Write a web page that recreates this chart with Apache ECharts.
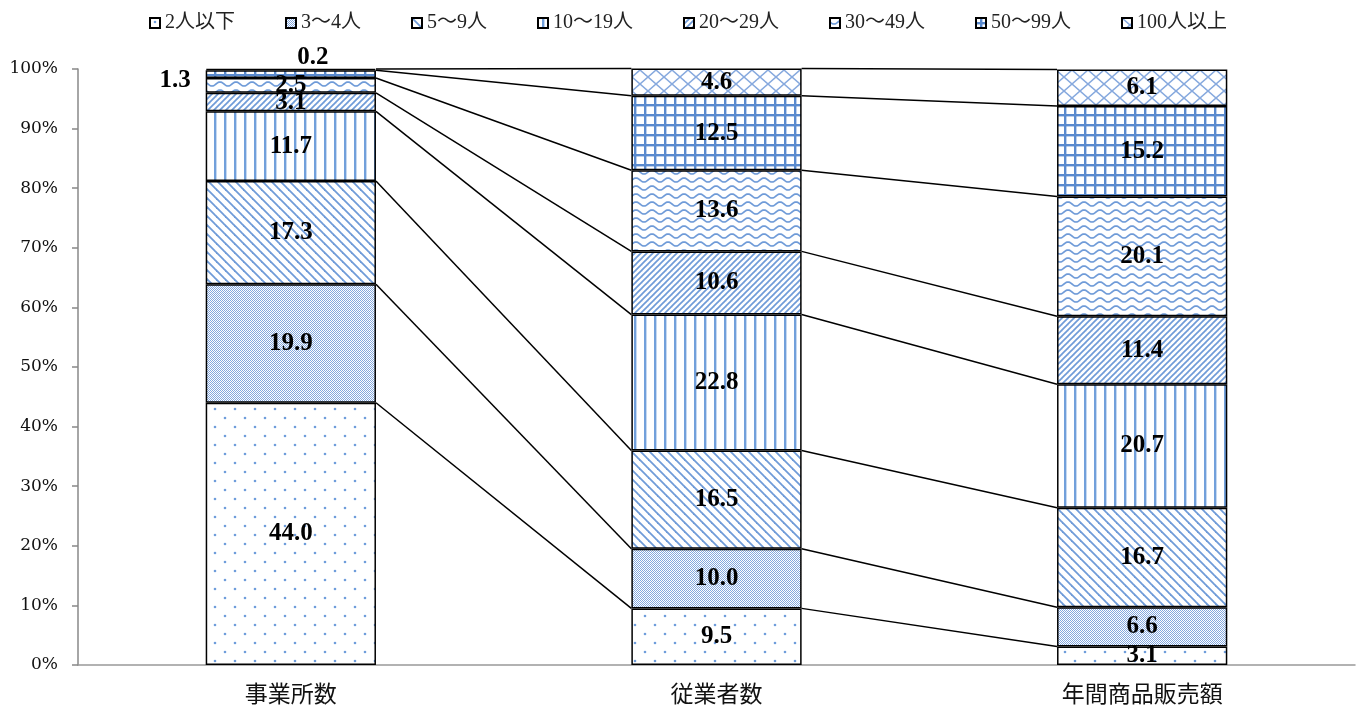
<!DOCTYPE html>
<html>
<head>
<meta charset="utf-8">
<script src="https://cdn.jsdelivr.net/npm/echarts@6/dist/echarts.min.js"></script>
<style>
  html, body { margin: 0; padding: 0; background: #fff; }
  #chart { width: 1362px; height: 706px; }
</style>
</head>
<body>
<div id="chart"></div>
<script>
// 規模別構成比（%）
const categories = ['事業所数', '従業者数', '年間商品販売額'];
const sizeClasses = ['2人以下', '3～4人', '5～9人', '10～19人', '20～29人', '30～49人', '50～99人', '100人以上'];

const upTo2      = [44.0,  9.5,  3.1];
const from3to4   = [19.9, 10.0,  6.6];
const from5to9   = [17.3, 16.5, 16.7];
const from10to19 = [11.7, 22.8, 20.7];
const from20to29 = [ 3.1, 10.6, 11.4];
const from30to49 = [ 2.5, 13.6, 20.1];
const from50to99 = [ 1.3, 12.5, 15.2];
const over100    = [ 0.2,  4.6,  6.1];

const yMin = 0, yMax = 100, yStep = 10;

const seriesValues = [upTo2, from3to4, from5to9, from10to19, from20to29, from30to49, from50to99, over100];

// ---- hatch fills drawn on small tiles ----
function tile(w, h, draw) {
  const c = document.createElement('canvas');
  c.width = w; c.height = h;
  const g = c.getContext('2d');
  g.fillStyle = '#fff';
  g.fillRect(0, 0, w, h);
  draw(g, w, h);
  return { image: c, repeat: 'repeat' };
}
const BLUE = '#6f9bd8';

const patterns = [
  // dots
  tile(20, 18, g => {
    g.fillStyle = '#6f9ddb';
    g.beginPath(); g.arc(5, 4, 1.3, 0, Math.PI * 2); g.fill();
    g.beginPath(); g.arc(15, 13, 1.3, 0, Math.PI * 2); g.fill();
  }),
  // fine checker
  tile(2, 2, g => {
    g.fillStyle = '#84a8de';
    g.fillRect(0, 0, 1, 1);
    g.fillRect(1, 1, 1, 1);
  }),
  // wide downward diagonal
  tile(9, 9, g => {
    g.strokeStyle = BLUE; g.lineWidth = 1.8;
    for (const k of [-9, 0, 9]) {
      g.beginPath(); g.moveTo(k - 1, -1); g.lineTo(k + 10, 10); g.stroke();
    }
  }),
  // vertical lines
  tile(10, 10, g => {
    g.fillStyle = '#72a0db';
    g.fillRect(4, 0, 2.4, 10);
  }),
  // dense upward diagonal
  tile(6, 6, g => {
    g.strokeStyle = BLUE; g.lineWidth = 1.7;
    for (const k of [-6, 0, 6]) {
      g.beginPath(); g.moveTo(k - 1, 7); g.lineTo(k + 7, -1); g.stroke();
    }
  }),
  // waves
  tile(16, 8, g => {
    g.strokeStyle = BLUE; g.lineWidth = 1.7;
    g.beginPath();
    for (let x = -1; x <= 17; x += 0.5) {
      const y = 4 + 2 * Math.sin(2 * Math.PI * x / 16);
      if (x === -1) g.moveTo(x, y); else g.lineTo(x, y);
    }
    g.stroke();
  }),
  // grid
  tile(10, 10, g => {
    g.fillStyle = '#5a8ace';
    g.fillRect(0, 4, 10, 2.4);
    g.fillRect(4, 0, 2.4, 10);
  }),
  // diamond lattice
  tile(16, 14, g => {
    g.strokeStyle = '#86a9de'; g.lineWidth = 1.5;
    g.beginPath(); g.moveTo(-1, -0.875); g.lineTo(17, 14.875); g.stroke();
    g.beginPath(); g.moveTo(-1, 14.875); g.lineTo(17, -0.875); g.stroke();
  })
];

const serifLatin = "'Liberation Serif', 'Noto Sans CJK JP', serif";

// per-item label tweaks for the thin top segments of the first bar
function dataFor(idx) {
  return seriesValues[idx].map((v, ci) => {
    const item = { value: v };
    if (ci === 0 && idx === 6) {
      item.label = { position: 'left', distance: 15, offset: [0, 6] };
    }
    if (ci === 0 && idx === 7) {
      item.label = { position: 'top', distance: 2, offset: [22, 3] };
    }
    return item;
  });
}

const barSeries = sizeClasses.map((name, idx) => ({
  name,
  type: 'bar',
  stack: 'total',
  barWidth: '40%',
  data: dataFor(idx),
  itemStyle: { color: patterns[idx], borderColor: '#000', borderWidth: 1.5 },
  label: {
    show: true,
    position: 'inside',
    formatter: p => p.value.toFixed(1),
    fontFamily: serifLatin,
    fontWeight: 'bold',
    fontSize: 25,
    color: '#000'
  },
  emphasis: { disabled: true },
  z: 2
}));

// cumulative heights of each stack boundary, per category
const cumulative = categories.map((_, ci) => {
  let s = 0;
  return seriesValues.map(arr => (s += arr[ci]));
});

// series lines joining matching boundaries of neighbouring bars
const connectorSeries = {
  type: 'custom',
  silent: true,
  clip: false,
  z: 3,
  encode: { x: 0, y: 1 },
  data: categories.slice(0, -1).map((_, i) => [i, 0]),
  renderItem: (params, api) => {
    const i = params.dataIndex;
    const half = api.size([1, 0])[0] * 0.4 / 2;
    const children = cumulative[i].map((cv, k) => {
      const a = api.coord([i, cv]);
      const b = api.coord([i + 1, cumulative[i + 1][k]]);
      return {
        type: 'line',
        shape: { x1: a[0] + half, y1: a[1], x2: b[0] - half, y2: b[1] },
        style: { stroke: '#000', lineWidth: 1.5 }
      };
    });
    return { type: 'group', children };
  }
};

const chart = echarts.init(document.getElementById('chart'), null, { renderer: 'canvas' });
chart.setOption({
  animation: false,
  backgroundColor: '#fff',
  legend: {
    data: sizeClasses,
    top: 8,
    left: 144,
    itemWidth: 10,
    itemHeight: 10,
    itemGap: 50,
    icon: 'rect',
    textStyle: { fontFamily: serifLatin, fontSize: 20, color: '#222' },
    selectedMode: false
  },
  grid: { left: 78, right: 7, top: 69, bottom: 41 },
  xAxis: {
    type: 'category',
    data: categories,
    axisLine: { lineStyle: { color: '#999', width: 1.5 } },
    axisTick: { length: 7, lineStyle: { color: '#999', width: 1.5 } },
    axisLabel: { fontFamily: "'Noto Sans CJK JP'", fontSize: 23, color: '#111', margin: 17 }
  },
  yAxis: {
    type: 'value',
    min: yMin,
    max: yMax,
    interval: yStep,
    axisLine: { show: true, lineStyle: { color: '#888', width: 1.5 } },
    axisTick: { show: true, length: 6, lineStyle: { color: '#888', width: 1.5 } },
    splitLine: { show: false },
    axisLabel: { formatter: '{value}%', fontFamily: "'DejaVu Serif'", fontSize: 17, color: '#111', margin: 20 }
  },
  series: [...barSeries, connectorSeries]
});
</script>
</body>
</html>
